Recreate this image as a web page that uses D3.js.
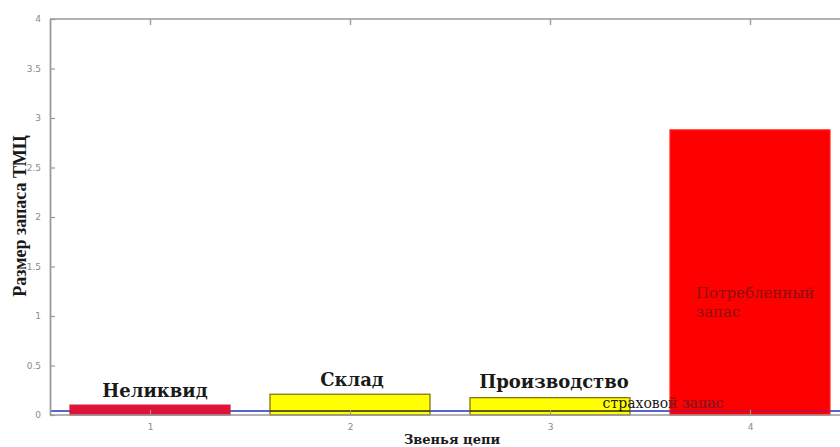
<!DOCTYPE html>
<html><head><meta charset="utf-8">
<script src="https://cdn.jsdelivr.net/npm/d3@7"></script>
<style>
html,body{margin:0;padding:0;background:#fff;}
svg{display:block;}
</style></head>
<body>
<svg id="chart" width="840" height="447"></svg>
<script>
// ---- data ----
const categories = [1, 2, 3, 4];
const values = [0.10, 0.21, 0.175, 2.88];
const barColors = ["#dc143a", "#ffff00", "#ffff00", "#ff0000"];
const barStrokes = ["#dc143a", "#7a6a10", "#7a6a10", "#ff2020"];
const barLabels = ["Неликвид", "Склад", "Производство", ""];
const safetyStock = 0.04;
const yTicks = [0, 0.5, 1, 1.5, 2, 2.5, 3, 3.5, 4];
const yTickLabels = ["0", "0.5", "1", "1.5", "2", "2.5", "3", "3.5", "4"];
const xTickLabels = ["1", "2", "3", "4"];
const yTitle = "Размер запаса ТМЦ";
const xTitle = "Звенья цепи";
const safetyLabel = "страховой запас";
const consumedLabel = ["Потребленный", "запас"];

// ---- layout ----
const svg = d3.select("#chart");
const mLeft = 50, mRight = 850, mTop = 19, mBottom = 415;
const x = d3.scaleLinear().domain([0.5, 4.5]).range([mLeft, mRight]);
const y = d3.scaleLinear().domain([0, 4]).range([mBottom, mTop]);
const bw = x(1.4) - x(0.6);
const axisColor = "#9a9a9a";

// safety stock line (beneath bars)
svg.append("line")
  .attr("x1", x(0.5)).attr("x2", x(4.5))
  .attr("y1", y(safetyStock)).attr("y2", y(safetyStock))
  .attr("stroke", "#2030c0").attr("stroke-width", 1.5);

// bars
svg.selectAll("rect.bar").data(categories).join("rect")
  .attr("class", "bar")
  .attr("x", (d) => x(d) - bw / 2)
  .attr("width", bw)
  .attr("y", (d, i) => y(values[i]))
  .attr("height", (d, i) => y(0) - y(values[i]))
  .attr("fill", (d, i) => barColors[i])
  .attr("stroke", (d, i) => barStrokes[i])
  .attr("stroke-width", 1.2);

// safety line showing through yellow and last bars
[1, 2].forEach((i) => {
  svg.append("line")
    .attr("x1", x(categories[i]) - bw / 2).attr("x2", x(categories[i]) + bw / 2)
    .attr("y1", y(safetyStock)).attr("y2", y(safetyStock))
    .attr("stroke", "#2a2a10").attr("stroke-width", 1.5);
});
svg.append("line")
  .attr("x1", x(categories[3]) - bw / 2).attr("x2", x(categories[3]) + bw / 2)
  .attr("y1", y(safetyStock)).attr("y2", y(safetyStock))
  .attr("stroke", "#b0105a").attr("stroke-width", 1.5);

// clip region = bar 4
svg.append("defs").append("clipPath").attr("id", "bar4clip")
  .append("rect")
  .attr("x", x(categories[3]) - bw / 2).attr("width", bw)
  .attr("y", y(values[3])).attr("height", y(0) - y(values[3]));

// safety label: black outside bar 4, dark red where it overlaps bar 4
const safetyX = x(3.565), safetyY = y(safetyStock) - 3;
svg.append("text")
  .attr("x", safetyX).attr("y", safetyY)
  .attr("font-family", "DejaVu Serif, serif").attr("font-size", 14)
  .attr("fill", "#1a1a1a").attr("text-anchor", "middle")
  .text(safetyLabel);
svg.append("text")
  .attr("clip-path", "url(#bar4clip)")
  .attr("x", safetyX).attr("y", safetyY)
  .attr("font-family", "DejaVu Serif, serif").attr("font-size", 14)
  .attr("fill", "#a01020").attr("text-anchor", "middle")
  .text(safetyLabel);

// bar labels
svg.selectAll("text.blabel").data(categories.slice(0, 3)).join("text")
  .attr("class", "blabel")
  .attr("x", (d) => x(d) + [5, 2, 4][d - 1])
  .attr("y", (d, i) => y(values[i]) + [-8, -8, -10][i])
  .attr("text-anchor", "middle")
  .attr("font-family", "DejaVu Serif, serif").attr("font-weight", "bold")
  .attr("font-size", 18).attr("fill", "#1a1a1a")
  .text((d, i) => barLabels[i]);

// consumed label inside bar 4
consumedLabel.forEach((t, k) => {
  svg.append("text")
    .attr("x", x(categories[3]) - bw / 2 + 26)
    .attr("y", y(1.18) + k * 19)
    .attr("font-family", "DejaVu Serif, serif").attr("font-size", 15)
    .attr("fill", "#8b1010")
    .text(t);
});

// axes frame
const gAx = svg.append("g");
gAx.append("line").attr("x1", mLeft).attr("x2", 840).attr("y1", mTop).attr("y2", mTop)
  .attr("stroke", axisColor).attr("stroke-width", 1.6);
gAx.append("line").attr("x1", mLeft).attr("x2", 840).attr("y1", mBottom).attr("y2", mBottom)
  .attr("stroke", axisColor).attr("stroke-width", 1.6);

// y axis
const yAxis = d3.axisLeft(y).tickValues(yTicks)
  .tickFormat((d, i) => yTickLabels[i]).tickSizeInner(-5).tickSizeOuter(0).tickPadding(9);
const gy = svg.append("g").attr("transform", `translate(${mLeft},0)`).call(yAxis);
gy.select(".domain").attr("stroke", axisColor).attr("stroke-width", 1.8);
gy.selectAll(".tick line").attr("stroke", axisColor).attr("stroke-width", 1.2);
gy.selectAll(".tick text").attr("fill", "#8a8a8a").attr("font-size", 9)
  .attr("font-family", "DejaVu Sans, sans-serif");

// x axis (bottom)
const xAxis = d3.axisBottom(x).tickValues(categories)
  .tickFormat((d, i) => xTickLabels[i]).tickSizeInner(-5).tickSizeOuter(0).tickPadding(9);
const gx = svg.append("g").attr("transform", `translate(0,${mBottom})`).call(xAxis);
gx.select(".domain").remove();
gx.selectAll(".tick line").attr("stroke", axisColor).attr("stroke-width", 1.2);
gx.selectAll(".tick text").attr("fill", "#8a8a8a").attr("font-size", 9)
  .attr("font-family", "DejaVu Sans, sans-serif");

// x axis (top, mirrored ticks)
const xTop = d3.axisTop(x).tickValues(categories).tickFormat("").tickSizeInner(-6).tickSizeOuter(0);
const gxt = svg.append("g").attr("transform", `translate(0,${mTop})`).call(xTop);
gxt.select(".domain").remove();
gxt.selectAll(".tick line").attr("stroke", axisColor).attr("stroke-width", 1.4);

// titles
svg.append("text")
  .attr("transform", `translate(26,216) rotate(-90)`)
  .attr("text-anchor", "middle")
  .attr("font-family", "Liberation Serif, serif").attr("font-weight", "bold")
  .attr("font-size", 18).attr("fill", "#1a1a1a")
  .text(yTitle);
svg.append("text")
  .attr("x", 452).attr("y", 444)
  .attr("text-anchor", "middle")
  .attr("font-family", "DejaVu Serif, serif").attr("font-weight", "bold")
  .attr("font-size", 13).attr("fill", "#1a1a1a")
  .text(xTitle);
</script>
</body></html>
